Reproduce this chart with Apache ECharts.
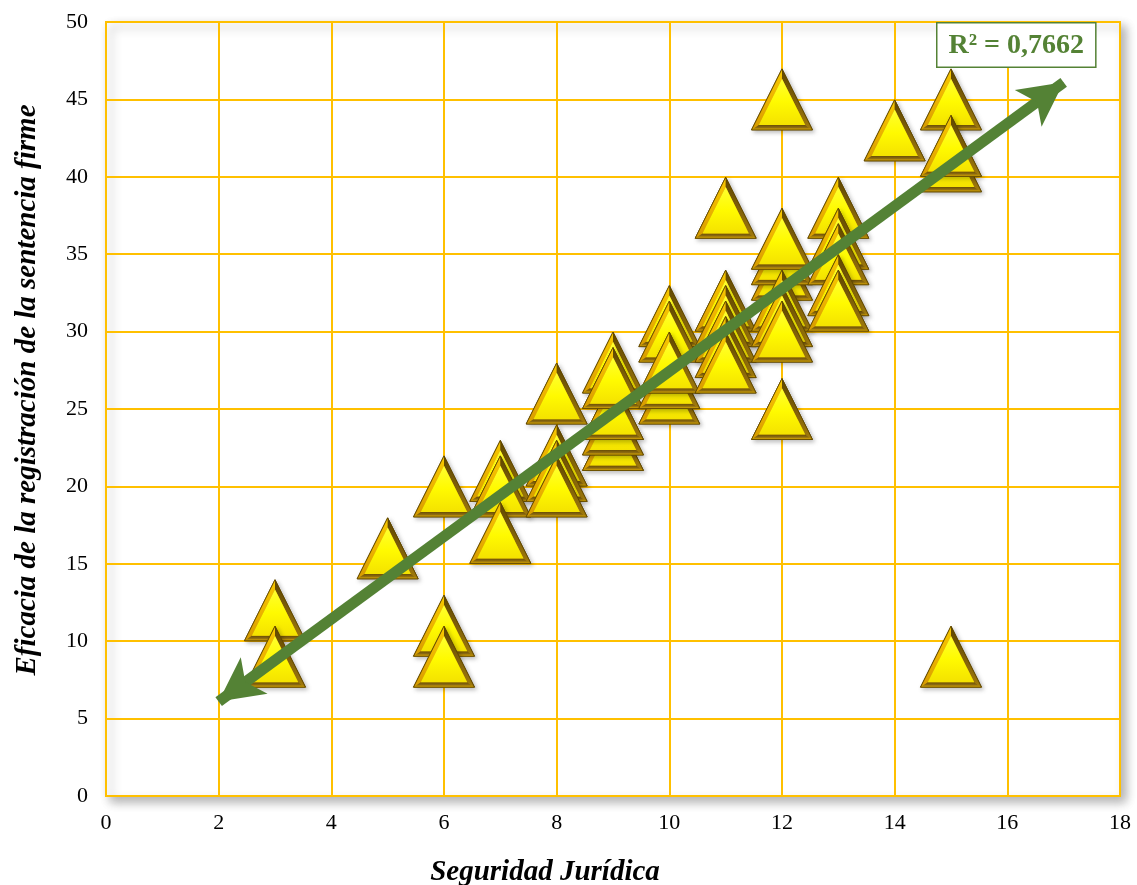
<!DOCTYPE html>
<html>
<head>
<meta charset="utf-8">
<script src="https://cdn.jsdelivr.net/npm/echarts@6/dist/echarts.min.js"></script>
<style>
  html, body { margin: 0; padding: 0; background: #fff; }
  #main { width: 1137px; height: 885px; }
</style>
</head>
<body>
<div id="main"></div>
<script>
// Seguridad Juridica (x) vs Eficacia de la registracion (y)
var xVals = [3, 3, 5, 6, 6, 6, 7, 7, 7, 8, 8, 8, 8,
             9, 9, 9, 9, 9, 10, 10, 10, 10, 10,
             11, 11, 11, 11, 11, 11, 12, 12, 12, 12, 12, 12, 12, 12,
             13, 13, 13, 13, 13, 14, 15, 15, 15, 15];
var yVals = [12, 9, 16, 20, 11, 9, 21, 20, 17, 26, 22, 21, 20,
             28, 23, 24, 25, 27, 31, 30, 26, 27, 28,
             38, 32, 31, 30, 29, 28, 45, 25, 34, 35, 36, 32, 31, 30,
             38, 36, 35, 33, 32, 43, 45, 41, 42, 9];
// trend arrow ends
var trendX = [2, 17];
var trendY = [6.1, 46.1];
var r2Text = 'R² = 0,7662';
var xTitle = 'Seguridad Jurídica';
var yTitle = 'Eficacia de la registración de la sentencia firme';
var xTicks = { min: 0, max: 18, interval: 2 };
var yTicks = { min: 0, max: 50, interval: 5 };

var points = xVals.map(function (x, i) { return [x, yVals[i]]; });

var chart = echarts.init(document.getElementById('main'));

function lg(stops) {
  return { type: 'linear', x: 0, y: 0, x2: 0, y2: 1,
    colorStops: stops.map(function (c, i) { return { offset: i / (stops.length - 1), color: c }; }) };
}

function renderTri(params, api) {
  var p = api.coord([api.value(0), api.value(1)]);
  var cx = p[0], cy = p[1], h = 30.5;
  var A = [cx, cy - h], B = [cx - h, cy + h], C = [cx + h, cy + h];
  var G = [cx, cy + h / 3], k = 0.76;
  function inn(P) { return [G[0] + k * (P[0] - G[0]), G[1] + k * (P[1] - G[1])]; }
  var a = inn(A), b = inn(B), c = inn(C);
  return {
    type: 'group',
    children: [
      { type: 'polygon', shape: { points: [A, B, C] },
        style: { fill: '#D4A000', stroke: '#6E5200', lineWidth: 1,
          shadowBlur: 4, shadowOffsetX: 2, shadowOffsetY: 2, shadowColor: 'rgba(0,0,0,0.25)' } },
      { type: 'polygon', shape: { points: [A, B, b, a] },
        style: { fill: lg(['#F7C800', '#EDB400', '#D69A00']) } },
      { type: 'polygon', shape: { points: [A, C, c, a] },
        style: { fill: lg(['#5E4600', '#7E5F08', '#A07A0C']) } },
      { type: 'polygon', shape: { points: [B, C, c, b] },
        style: { fill: lg(['#6A4E06', '#8C6A10', '#E8B400']) } },
      { type: 'polygon', shape: { points: [a, b, c] },
        style: { fill: lg(['#FFFF30', '#FFFA00', '#F4E200']) } },
      { type: 'polyline', shape: { points: [A, B, C, A] },
        style: { stroke: '#5A4300', lineWidth: 0.8, fill: null } }
    ]
  };
}

var labelFont = { color: '#000', fontFamily: 'Liberation Serif', fontSize: 22 };
var titleFont = 'italic bold 29px "Liberation Serif"';

var option = {
  animation: false,
  backgroundColor: '#fff',
  grid: {
    left: 106, top: 22, right: 17, bottom: 89,
    show: true, backgroundColor: '#fff', borderColor: '#FFC000', borderWidth: 2,
    shadowColor: 'rgba(0,0,0,0.3)', shadowBlur: 10, shadowOffsetX: 5, shadowOffsetY: 5
  },
  xAxis: {
    type: 'value', min: xTicks.min, max: xTicks.max, interval: xTicks.interval,
    axisLine: { show: true, lineStyle: { color: '#FFC000', width: 2 } },
    axisTick: { show: false },
    axisLabel: Object.assign({ margin: 16 }, labelFont),
    splitLine: { show: true, lineStyle: { color: '#FFC000', width: 2 } }
  },
  yAxis: {
    type: 'value', min: yTicks.min, max: yTicks.max, interval: yTicks.interval,
    axisLine: { show: true, lineStyle: { color: '#FFC000', width: 2 } },
    axisTick: { show: false },
    axisLabel: Object.assign({ margin: 18 }, labelFont),
    splitLine: { show: true, lineStyle: { color: '#FFC000', width: 2 } }
  },
  series: [
    {
      type: 'custom',
      renderItem: renderTri,
      data: points,
      z: 3
    },
    {
      type: 'line',
      data: [],
      z: 5,
      markLine: {
        silent: true,
        symbol: ['arrow', 'arrow'],
        symbolSize: [34, 44],
        label: { show: false },
        lineStyle: { color: '#548235', width: 11, type: 'solid', opacity: 1 },
        data: [[{ coord: [trendX[0], trendY[0]] }, { coord: [trendX[1], trendY[1]] }]]
      }
    }
  ],
  graphic: [
    {
      type: 'text', left: 936, top: 22, z: 10,
      style: {
        text: r2Text, fill: '#548235',
        font: 'bold 28px "Liberation Serif"',
        backgroundColor: '#fff', borderColor: '#548235', borderWidth: 1.5,
        padding: [8, 11, 7, 11]
      }
    },
    {
      type: 'text', x: 545, y: 873, z: 10,
      style: { text: xTitle, font: titleFont, fill: '#000', align: 'center', verticalAlign: 'middle' }
    },
    {
      type: 'text', x: 28, y: 390, rotation: Math.PI / 2, z: 10,
      style: { text: yTitle, font: titleFont, fill: '#000', align: 'center', verticalAlign: 'middle' }
    }
  ]
};

chart.setOption(option);
window.addEventListener('resize', chart.resize);
</script>
</body>
</html>
